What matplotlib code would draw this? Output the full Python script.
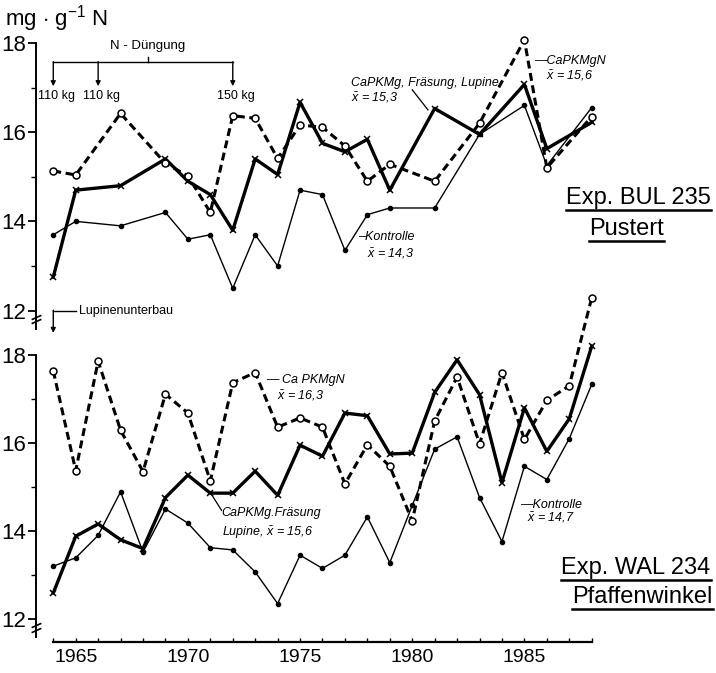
import numpy as np
import matplotlib
matplotlib.use("Agg")
import matplotlib.pyplot as plt
from matplotlib.lines import Line2D

plt.rcParams['font.family'] = ['Liberation Sans', 'DejaVu Sans']
plt.rcParams['mathtext.fontset'] = 'custom'
plt.rcParams['mathtext.it'] = 'Liberation Sans:italic'
plt.rcParams['mathtext.rm'] = 'Liberation Sans'

# --- Exp. BUL 235 Pustert (top panel) ---
years_bul = [1964, 1965, 1967, 1969, 1970, 1971, 1972, 1973, 1974, 1975, 1976,
             1977, 1978, 1979, 1981, 1983, 1985, 1986, 1988]
bul_kontrolle = [13.7, 14.0, 13.9, 14.2, 13.6, 13.7, 12.5, 13.7, 13.0, 14.7, 14.6,
                 13.35, 14.15, 14.3, 14.3, 15.95, 16.6, 15.25, 16.55]
bul_fraesung = [12.75, 14.7, 14.8, 15.4, 14.9, 14.6, 13.8, 15.4, 15.05, 16.67, 15.75,
                15.56, 15.84, 14.7, 16.53, 15.95, 17.07, 15.63, 16.22]
bul_capkmgn = [15.13, 15.04, 16.42, 15.3, 15.02, 14.2, 16.37, 16.31, 15.41, 16.16, 16.11,
               15.69, 14.9, 15.28, 14.9, 16.2, 18.07, 15.2, 16.35]

# --- Exp. WAL 234 Pfaffenwinkel (bottom panel) ---
years_wal = list(range(1964, 1989))
wal_kontrolle = [13.2, 13.39, 13.9, 14.89, 13.52, 14.5, 14.18, 13.62, 13.57, 13.07, 12.35,
                 13.45, 13.15, 13.45, 14.32, 13.28, 14.58, 15.86, 16.14, 14.76, 13.76,
                 15.47, 15.17, 16.1, 17.33]
wal_fraesung = [12.59, 13.88, 14.16, 13.8, 13.6, 14.76, 15.27, 14.86, 14.86, 15.36, 14.81,
                15.95, 15.7, 16.68, 16.62, 15.75, 15.77, 17.15, 17.89, 17.1, 15.1,
                16.8, 15.81, 16.55, 18.2]
wal_capkmgn = [17.64, 15.37, 17.86, 16.29, 15.35, 17.11, 16.68, 15.14, 17.37, 17.6, 16.36,
               16.57, 16.36, 15.07, 15.96, 15.47, 14.23, 16.5, 17.5, 15.98, 17.6,
               16.08, 16.97, 17.3, 19.3]

n_years = [1964, 1966, 1972]
n_labels = ["110 kg", "110 kg", "150 kg"]

W, H = 716, 673


def rect(l, t, r, b):
    return [l / W, 1 - b / H, (r - l) / W, (b - t) / H]


def draw_series(ax, years, kontrolle, fraesung, capkmgn):
    ax.plot(years, kontrolle, color='black', lw=1.0, marker='o', ms=3.0,
            mfc='black', mec='black', clip_on=False, zorder=3)
    ax.plot(years, fraesung, color='black', lw=2.4, marker='x', ms=4, mew=1.1,
            clip_on=False, zorder=4)
    ax.plot(years, capkmgn, color='black', lw=2.2, dashes=(2.6, 1.5), marker='o',
            ms=5, mfc='white', mec='black', mew=1.1, clip_on=False, zorder=5)


def style_y(ax):
    for s in ['top', 'right']:
        ax.spines[s].set_visible(False)
    ax.spines['left'].set_bounds(11.58, 18)
    ax.spines['left'].set_linewidth(1.4)
    ax.set_yticks([12, 14, 16, 18])
    ax.set_yticks([13, 15, 17], minor=True)
    ax.tick_params(axis='y', which='major', length=6, width=1.3, labelsize=16, pad=1)
    ax.tick_params(axis='y', which='minor', length=3.5, width=1.0)
    # axis break marks
    ax.plot([0, 0], [11.86, 11.76], transform=ax.get_yaxis_transform(), ls='none',
            marker=[(-1, -0.45), (1, 0.45)], ms=7, mew=1.2, color='black', clip_on=False)


xlim = (1963.23, 1993.54)

fig = plt.figure(figsize=(W / 100, H / 100), dpi=100)

ax_top = fig.add_axes(rect(36, 30, 716, 332))
ax_top.set_xlim(*xlim)
ax_top.set_ylim(11.52, 18.29)
ax_top.patch.set_alpha(0)
style_y(ax_top)
ax_top.spines['bottom'].set_visible(False)
ax_top.set_xticks([])
draw_series(ax_top, years_bul, bul_kontrolle, bul_fraesung, bul_capkmgn)

ax_bot = fig.add_axes(rect(36, 290, 716, 642))
ax_bot.set_xlim(*xlim)
ax_bot.set_ylim(11.477, 19.477)
ax_bot.patch.set_alpha(0)
style_y(ax_bot)
ax_bot.spines['bottom'].set_bounds(1964, 1988)
ax_bot.spines['bottom'].set_linewidth(1.6)
ax_bot.set_xticks([1965, 1970, 1975, 1980, 1985])
ax_bot.set_xticks(years_wal, minor=True)
ax_bot.tick_params(axis='x', which='both', direction='in', length=3, width=1.0,
                   labelsize=14, pad=5)
draw_series(ax_bot, years_wal, wal_kontrolle, wal_fraesung, wal_capkmgn)

# unit label
fig.text(5 / W, 1 - 19 / H, r"mg $\cdot$ g$^{-1}$ N", fontsize=16, va='center', ha='left')

# N-Duengung bracket
ax_top.text(1968.2, 17.93, "N - Düngung", fontsize=9.5, ha='center', va='center')
ax_top.plot([n_years[0], n_years[-1]], [17.57, 17.57], color='black', lw=1.0, clip_on=False)
ax_top.plot([1968.2, 1968.2], [17.57, 17.68], color='black', lw=1.0, clip_on=False)
for yr, lab in zip(n_years, n_labels):
    ax_top.annotate("", xy=(yr, 17.03), xytext=(yr, 17.58),
                    arrowprops=dict(arrowstyle='-|>', color='black', lw=1.0,
                                    mutation_scale=7, shrinkA=0, shrinkB=0))
    ax_top.text(yr + 0.15, 16.82, lab, fontsize=9, ha='center', va='center')

# Lupinenunterbau
ax_top.plot([1964, 1965.0], [12.0, 12.0], color='black', lw=1.0, clip_on=False)
ax_top.annotate("", xy=(1964, 11.5), xytext=(1964, 12.01),
                arrowprops=dict(arrowstyle='-|>', color='black', lw=1.0,
                                mutation_scale=7, shrinkA=0, shrinkB=0),
                annotation_clip=False)
ax_top.text(1965.15, 12.0, "Lupinenunterbau", fontsize=9, ha='left', va='center')

it = dict(fontsize=9, style='italic', ha='left', va='center')

# top panel annotations
ax_top.text(1977.25, 17.1, "CaPKMg, Fräsung, Lupine", **it)
ax_top.text(1977.25, 16.78, r"$\bar{x}$ = 15,3", **it)
ax_top.plot([1980.0, 1980.7], [16.95, 16.5], color='black', lw=0.9, clip_on=False)
ax_top.text(1985.45, 17.6, "—CaPKMgN", **it)
ax_top.text(1985.95, 17.27, r"$\bar{x}$ = 15,6", **it)
ax_top.text(1977.6, 13.65, "–Kontrolle", **it)
ax_top.text(1978.0, 13.28, r"$\bar{x}$ = 14,3", **it)

# bottom panel annotations
ax_bot.text(1973.5, 17.43, "— Ca PKMgN", **it)
ax_bot.text(1973.95, 17.08, r"$\bar{x}$ = 16,3", **it)
ax_bot.plot([1971.03, 1971.5], [14.85, 14.47], color='black', lw=0.9)
ax_bot.text(1971.5, 14.4, "CaPKMg.Fräsung", **it)
ax_bot.text(1971.5, 13.95, r"Lupine, $\bar{x}$ = 15,6", **it)
ax_bot.text(1984.8, 14.59, "—Kontrolle", **it)
ax_bot.text(1985.1, 14.3, r"$\bar{x}$ = 14,7", **it)

# experiment titles, underlined
titles = [
    (ax_top, 1993.3, 14.52, "Exp. BUL 235", 'right'),
    (ax_top, 1987.9, 13.82, "Pustert", 'left'),
    (ax_bot, 1993.3, 13.16, "Exp. WAL 234", 'right'),
    (ax_bot, 1993.4, 12.5, "Pfaffenwinkel", 'right'),
]
renderer = fig.canvas.get_renderer()
for ax, x, y, s, ha in titles:
    t = ax.text(x, y, s, fontsize=17, ha=ha, va='center')
    bb = t.get_window_extent(renderer).transformed(fig.transFigure.inverted())
    yline = bb.y0 - 1 / H
    fig.add_artist(Line2D([bb.x0, bb.x1], [yline, yline], color='black', lw=1.8))

fig.savefig("out.png", dpi=100)
